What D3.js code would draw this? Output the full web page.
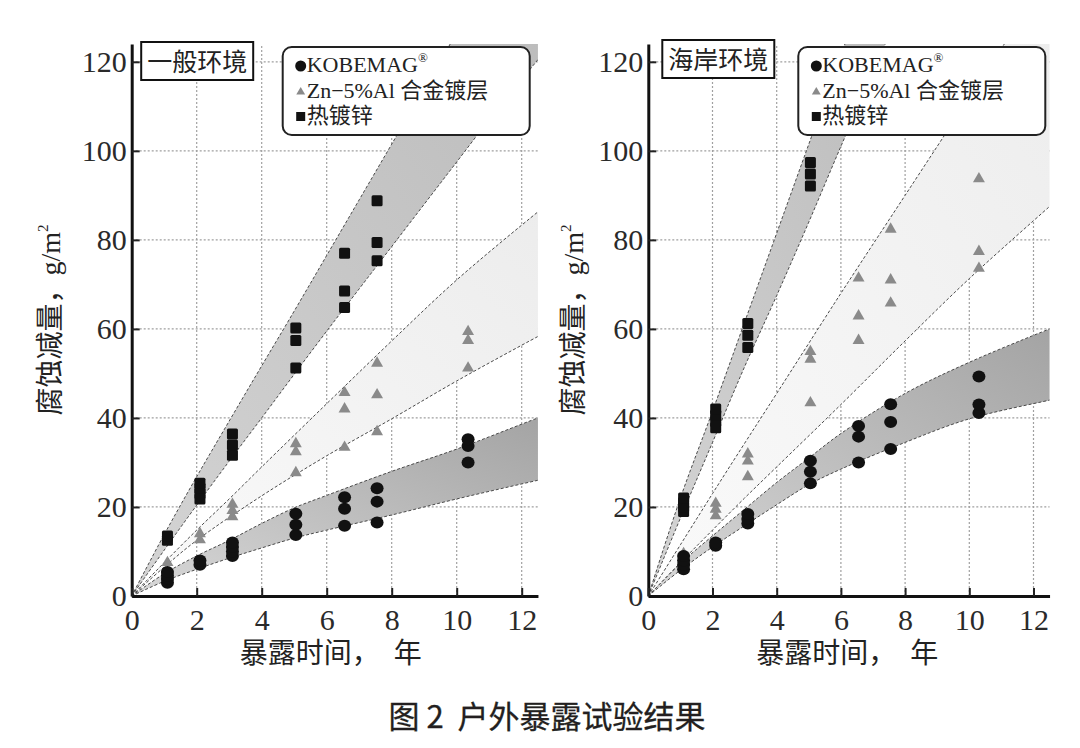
<!DOCTYPE html>
<html>
<head>
<meta charset="utf-8">
<script src="https://cdn.jsdelivr.net/npm/d3@7"></script>
<style>
  body { margin: 0; background: #fff; }
</style>
</head>
<body>
<script>
// ---- data ----
const xTicks = [0, 2, 4, 6, 8, 10, 12];
const yTicks = [0, 20, 40, 60, 80, 100, 120];

// 一般环境 (general environment)
const genKobe = [[1.1,3],[1.1,3.8],[1.1,4.6],[1.1,5.4],[2.1,7],[2.1,8],[3.1,9],[3.1,10],[3.1,11],[3.1,12],
  [5.05,13.7],[5.05,16],[5.05,18.5],[6.55,15.8],[6.55,19.6],[6.55,22.2],[7.55,16.5],[7.55,21.2],[7.55,24.2],
  [10.35,30],[10.35,33.7],[10.35,35.2]];
const genZnAl = [[1.1,7.5],[2.1,12.6],[2.1,14],[3.1,17.8],[3.1,19.2],[3.1,20.6],[5.05,27.7],[5.05,32.4],[5.05,34.2],
  [6.55,33.4],[6.55,42],[6.55,45.7],[7.55,36.9],[7.55,45.2],[7.55,52.3],[10.35,51.2],[10.35,57.4],[10.35,59.4]];
const genGalv = [[1.1,12.5],[1.1,13.5],[2.1,21.8],[2.1,23],[2.1,24.2],[2.1,25.3],[3.1,31.6],[3.1,33.9],[3.1,36.4],
  [5.05,51.2],[5.05,57.4],[5.05,60.2],[6.55,64.8],[6.55,68.5],[6.55,77],[7.55,75.3],[7.55,79.4],[7.55,88.8]];

// band edges, general environment
const genKobeUpper = [[0,0],[1,5],[2,9],[3,12.5],[4,16.3],[5,19.8],[6,22.6],[8,28],[10,33],[12.5,40],[13,41.3]];
const genKobeLower = [[0,0],[1,3.3],[2,6],[3,8.5],[4,10.8],[5,13],[6,14.8],[8,18.2],[10,21.8],[12.5,26],[13,26.8]];
const genZnAlUpper = [[0,0],[1,7.5],[2,14.8],[3,21.8],[4,29],[6,43.2],[8,57.3],[10,71],[12.5,86.3],[13,89.2]];
const genZnAlLower = [[0,0],[1,6.5],[2,12.5],[4,22.5],[6,31.5],[8,39.8],[10,48.3],[12.5,58.3],[13,60.2]];
const genGalvUpper = [[0,0],[1,13.8],[2,26.8],[3,39.3],[4,51.7],[5,64],[6,76.5],[7,89],[8,101.5],[9,114],[10,126.5]];
const genGalvLower = [[0,0],[1,10.3],[2,20.4],[3,30.3],[4,40],[5,49.8],[6,59.5],[7,69],[8,78.5],[9,88],[10,97.5],[11,107],[12,116],[12.5,120.5],[13,125]];

// 海岸环境 (coastal environment)
const coastKobe = [[1.1,6],[1.1,7],[1.1,8],[1.1,9],[2.1,11.3],[2.1,12],[3.1,16.3],[3.1,17.3],[3.1,18.4],
  [5.05,25.3],[5.05,27.9],[5.05,30.4],[6.55,30],[6.55,35.8],[6.55,38.2],[7.55,33],[7.55,39.1],[7.55,43.1],
  [10.3,41.1],[10.3,43],[10.3,49.3]];
const coastZnAl = [[1.1,9.5],[2.1,18],[2.1,19.5],[2.1,20.8],[3.1,26.8],[3.1,30.3],[3.1,31.9],[5.05,43.4],[5.05,53.2],[5.05,54.9],
  [6.55,57.4],[6.55,62.9],[6.55,71.4],[7.55,65.8],[7.55,71],[7.55,82.4],[10.3,73.6],[10.3,77.4],[10.3,93.7]];
const coastGalv = [[1.1,19],[1.1,20],[1.1,21],[1.1,22],[2.1,37.8],[2.1,39.2],[2.1,40.6],[2.1,42],
  [3.1,55.8],[3.1,58.6],[3.1,61.2],[5.05,92.1],[5.05,94.8],[5.05,97.4]];

// band edges, coastal environment
const coastKobeUpper = [[0,0],[1,7.3],[2,13.5],[3,19.5],[4,25.5],[5,31],[6,36.5],[8,45.5],[10,52.5],[12.5,60],[13,61.4]];
const coastKobeLower = [[0,0],[1,5.8],[2,11],[3,15.8],[4,20.5],[5,25],[6,28.5],[8,34.5],[10,39.8],[12.5,44],[13,44.8]];
const coastZnAlUpper = [[0,0],[1,11.5],[2,23],[3,34.3],[4,45.5],[6,68],[8,90],[10,112],[11,123],[12,134],[13,145]];
const coastZnAlLower = [[0,0],[1,7.5],[2,14.8],[3,22],[4,29],[6,43],[8,57.3],[10,71.3],[12.5,87.5],[13,90.7]];
const coastGalvUpper = [[0,0],[1,22],[2,41.5],[3,61.5],[4,81.5],[5,101.5],[6,121.5],[6.5,131.5]];
const coastGalvLower = [[0,0],[1,17.5],[2,34.5],[3,51.5],[4,67.5],[5,84],[6,101],[7,117.5],[7.5,126]];

const legendLabels = ["KOBEMAG", "Zn\u22125%Al 合金镀层", "热镀锌"];
const panelTitles = ["一般环境", "海岸环境"];
const yLabel = "腐蚀减量，g/m";
const xLabel = "暴露时间，  年";
const caption = "图 2  户外暴露试验结果";

// ---- drawing ----
const serif = "'Liberation Serif', 'Times New Roman', 'Noto Sans CJK SC', serif";
const cjk = "'Noto Sans CJK SC', sans-serif";

const svg = d3.select("body").append("svg")
  .attr("width", 1080)
  .attr("height", 748);
const defs = svg.append("defs");

function grad(id, c0, c1) {
  const lg = defs.append("linearGradient").attr("id", id)
    .attr("x1", 0).attr("y1", 1).attr("x2", 1).attr("y2", 0);
  lg.append("stop").attr("offset", "0%").attr("stop-color", c0);
  lg.append("stop").attr("offset", "100%").attr("stop-color", c1);
}
grad("gDark", "#d8d8d8", "#a2a2a2");
grad("gGalv", "#d4d4d4", "#bcbcbc");
grad("gLight", "#fafafa", "#ececec");

const panels = [
  { id: "gen", left: 131.7, unit: 32.5, title: panelTitles[0], titleX: 9.5, titleY: 42, legX: 151,
    yLabX: 50, kobe: genKobe, znal: genZnAl, galv: genGalv,
    bands: [[genZnAlUpper, genZnAlLower, "gLight"], [genKobeUpper, genKobeLower, "gDark"], [genGalvUpper, genGalvLower, "gGalv"]] },
  { id: "coast", left: 648.3, unit: 32.1, title: panelTitles[1], titleX: 14, titleY: 40, legX: 150,
    yLabX: 573, kobe: coastKobe, znal: coastZnAl, galv: coastGalv,
    bands: [[coastZnAlUpper, coastZnAlLower, "gLight"], [coastKobeUpper, coastKobeLower, "gDark"], [coastGalvUpper, coastGalvLower, "gGalv"]] }
];

panels.forEach(function(p) {
  let x = d3.scaleLinear().domain([0, 12.5]).range([p.left, p.left + p.unit * 12.5]);
  let y = d3.scaleLinear().domain([0, 124]).range([596, 44]);
  let g = svg.append("g");

  defs.append("clipPath").attr("id", "clip-" + p.id)
    .append("rect")
    .attr("x", x(0)).attr("y", y(124))
    .attr("width", x(12.5) - x(0)).attr("height", y(0) - y(124));

  // dotted grid
  g.append("g").selectAll("line").data(xTicks.filter(d => d > 0)).join("line")
    .attr("x1", d => x(d)).attr("x2", d => x(d))
    .attr("y1", y(0)).attr("y2", y(124))
    .attr("stroke", "#a0a0a0").attr("stroke-width", 1.2).attr("stroke-dasharray", "2,2");
  g.append("g").selectAll("line").data(yTicks.filter(d => d > 0)).join("line")
    .attr("x1", x(0)).attr("x2", x(12.5))
    .attr("y1", d => y(d)).attr("y2", d => y(d))
    .attr("stroke", "#a0a0a0").attr("stroke-width", 1.2).attr("stroke-dasharray", "2,2");

  // bands
  let edge = d3.line().x(d => x(d[0])).y(d => y(d[1])).curve(d3.curveCatmullRom);
  let bandG = g.append("g").attr("clip-path", "url(#clip-" + p.id + ")");
  p.bands.forEach(function(b) {
    let path = edge(b[0]) + edge(b[1].slice().reverse()).replace(/^M/, "L") + "Z";
    bandG.append("path").attr("d", path).attr("fill", "url(#" + b[2] + ")").attr("stroke", "none");
    [b[0], b[1]].forEach(function(e) {
      bandG.append("path").attr("d", edge(e))
        .attr("fill", "none").attr("stroke", "#4a4a4a")
        .attr("stroke-width", 1).attr("stroke-dasharray", "3,2");
    });
  });

  // points
  g.append("g").selectAll("path").data(p.znal).join("path")
    .attr("d", d3.symbol(d3.symbolTriangle).size(62))
    .attr("transform", d => "translate(" + x(d[0]) + "," + y(d[1]) + ")")
    .attr("fill", "#8a8a8a");
  g.append("g").selectAll("ellipse").data(p.kobe).join("ellipse")
    .attr("cx", d => x(d[0])).attr("cy", d => y(d[1]))
    .attr("rx", 6.5).attr("ry", 6)
    .attr("fill", "#111");
  g.append("g").selectAll("rect").data(p.galv).join("rect")
    .attr("x", d => x(d[0]) - 5.5).attr("y", d => y(d[1]) - 5.5)
    .attr("width", 11).attr("height", 11).attr("rx", 1.5)
    .attr("fill", "#111");

  // axes
  let yAxis = g.append("g")
    .attr("transform", "translate(" + x(0) + ",0)")
    .call(d3.axisLeft(y).tickValues(yTicks).tickSizeInner(-8).tickSizeOuter(0).tickPadding(5));
  let xAxis = g.append("g")
    .attr("transform", "translate(0," + y(0) + ")")
    .call(d3.axisBottom(x).tickValues(xTicks).tickSizeInner(-8).tickSizeOuter(0).tickPadding(13));
  [yAxis, xAxis].forEach(function(a) {
    a.select(".domain").attr("stroke", "#111").attr("stroke-width", 3);
    a.selectAll(".tick line").attr("stroke", "#222").attr("stroke-width", 2);
    a.selectAll(".tick text").attr("font-family", serif).attr("font-size", 30).attr("fill", "#2a2a2a");
  });

  // title box
  let tx = x(0) + p.titleX;
  g.append("rect").attr("x", tx).attr("y", p.titleY).attr("width", 112).attr("height", 38)
    .attr("fill", "#fff").attr("stroke", "#111").attr("stroke-width", 2);
  g.append("text").attr("x", tx + 56).attr("y", p.titleY + 28.5)
    .attr("text-anchor", "middle").attr("font-family", cjk).attr("font-size", 25)
    .attr("fill", "#222").text(p.title);

  // legend
  let lx = x(0) + p.legX, ly = 47;
  g.append("rect").attr("x", lx).attr("y", ly).attr("width", 247).attr("height", 88).attr("rx", 9)
    .attr("fill", "#fff").attr("stroke", "#222").attr("stroke-width", 2);
  let rows = [ly + 25, ly + 51, ly + 76];
  g.append("circle").attr("cx", lx + 18).attr("cy", rows[0] - 6).attr("r", 5.5).attr("fill", "#111");
  g.append("path").attr("d", d3.symbol(d3.symbolTriangle).size(34))
    .attr("transform", "translate(" + (lx + 18) + "," + (rows[1] - 6) + ")").attr("fill", "#8a8a8a");
  g.append("rect").attr("x", lx + 13.5).attr("y", rows[2] - 11).attr("width", 9).attr("height", 9).attr("fill", "#111");
  let t0 = g.append("text").attr("x", lx + 24).attr("y", rows[0])
    .attr("font-family", serif).attr("font-size", 22).attr("fill", "#222").text(legendLabels[0]);
  t0.append("tspan").attr("dy", -10).attr("font-size", 13).text("®");
  g.append("text").attr("x", lx + 24).attr("y", rows[1])
    .attr("font-family", serif).attr("font-size", 22).attr("fill", "#222").text(legendLabels[1]);
  g.append("text").attr("x", lx + 24).attr("y", rows[2])
    .attr("font-family", serif).attr("font-size", 22).attr("fill", "#222").text(legendLabels[2]);

  // axis labels
  let yl = g.append("text")
    .attr("transform", "translate(" + p.yLabX + ",320) rotate(-90)")
    .attr("text-anchor", "middle").attr("dy", "0.35em")
    .attr("font-family", serif).attr("font-size", 28).attr("fill", "#222")
    .text(yLabel);
  yl.append("tspan").attr("dy", -12).attr("font-size", 15).text("2");
  g.append("text").attr("x", x(0) + 199).attr("y", 663)
    .attr("text-anchor", "middle")
    .attr("font-family", serif).attr("font-size", 28).attr("fill", "#222")
    .style("white-space", "pre")
    .text(xLabel);
});

// caption
svg.append("text").attr("x", 547).attr("y", 728)
  .attr("text-anchor", "middle")
  .attr("font-family", cjk).attr("font-size", 31).attr("font-weight", 400)
  .attr("fill", "#231f20").attr("stroke", "#231f20").attr("stroke-width", 0.3)
  .style("white-space", "pre")
  .text(caption);
</script>
</body>
</html>
